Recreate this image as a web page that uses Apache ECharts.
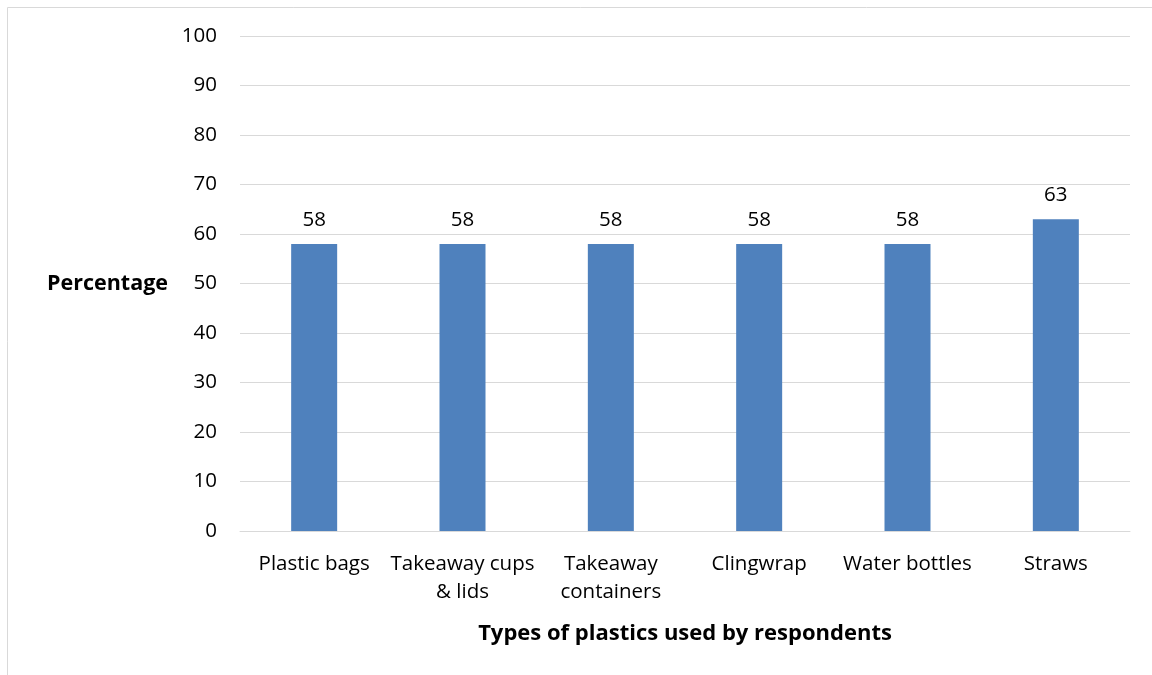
<!DOCTYPE html>
<html><head><meta charset="utf-8">
<script src="https://cdn.jsdelivr.net/npm/echarts@6/dist/echarts.min.js"></script>
<style>html,body{margin:0;padding:0;background:#fff}#c{width:1152px;height:675px}</style>
</head><body><div id="c"></div>
<script>
const categories = ["Plastic bags", "Takeaway cups\n& lids", "Takeaway\ncontainers", "Clingwrap", "Water bottles", "Straws"];
const values = [58, 58, 58, 58, 58, 63];
const yTicks = [0, 10, 20, 30, 40, 50, 60, 70, 80, 90, 100];
const FONT = "Open Sans";
const chart = echarts.init(document.getElementById('c'));
chart.setOption({
  animation: false,
  textStyle: {fontFamily: FONT},
  graphic: [{type: 'rect', shape: {x: 7.5, y: 7.5, width: 1200, height: 700}, style: {fill: 'none', stroke: '#D9D9D9', lineWidth: 1}, silent: true}],
  grid: {left: 240, right: 22, top: 36, bottom: 144, containLabel: false, outerBoundsMode: 'none'},
  xAxis: {
    type: 'category', data: categories,
    axisLine: {show: true, lineStyle: {color: '#D9D9D9', width: 1}},
    axisTick: {show: false},
    axisLabel: {color: '#000', fontSize: 20.5, fontFamily: FONT, lineHeight: 28, margin: 19, interval: 0},
    name: 'Types of plastics used by respondents', nameLocation: 'middle', nameGap: 92,
    nameTextStyle: {color: '#000', fontSize: 22, fontWeight: 'bold', fontFamily: FONT}
  },
  yAxis: {
    type: 'value', min: yTicks[0], max: yTicks[yTicks.length - 1], interval: 10,
    axisLine: {show: false}, axisTick: {show: false},
    splitLine: {lineStyle: {color: '#D9D9D9', width: 1}},
    axisLabel: {color: '#000', fontSize: 20.5, fontFamily: FONT, margin: 23},
    name: 'Percentage', nameLocation: 'middle', nameRotate: 0, nameGap: 72,
    nameTextStyle: {color: '#000', fontSize: 21.5, fontWeight: 'bold', fontFamily: FONT, align: 'right', padding: [10, 0, 0, 0]}
  },
  series: [{
    type: 'bar', data: values, barWidth: 46,
    itemStyle: {color: '#4F81BD'},
    label: {show: true, position: 'top', distance: 13, color: '#000', fontSize: 20.5, fontFamily: FONT}
  }]
});
</script></body></html>
